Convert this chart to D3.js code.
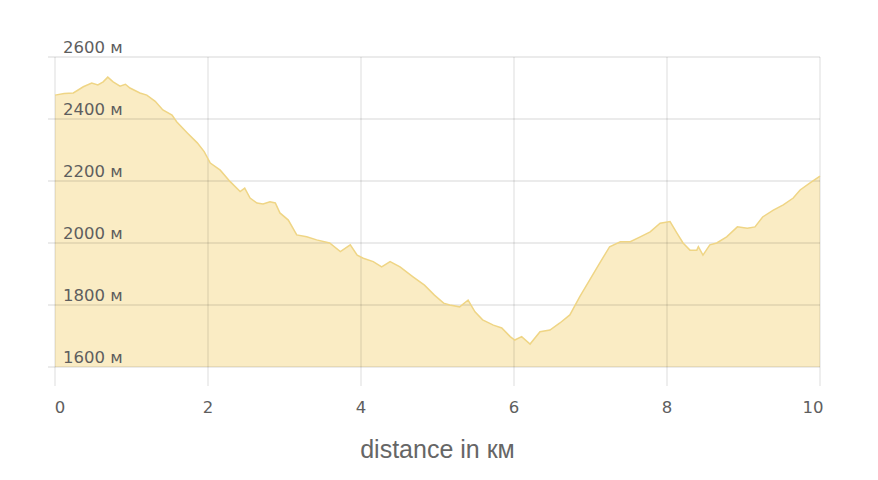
<!DOCTYPE html>
<html>
<head>
<meta charset="utf-8">
<script src="https://cdn.jsdelivr.net/npm/d3@7/dist/d3.min.js"></script>
<style>
body { margin: 0; background: #fff; }
svg { display: block; }
</style>
</head>
<body>
<svg id="chart" width="878" height="480"></svg>
<script>
const distances = [0, 0.12, 0.24, 0.37, 0.48, 0.56, 0.63, 0.69, 0.76, 0.85, 0.92, 0.98, 1.11, 1.2, 1.31, 1.41, 1.53, 1.59, 1.73, 1.86, 1.95,
  2.03, 2.16, 2.29, 2.42, 2.48, 2.55, 2.64, 2.72, 2.81, 2.88, 2.94, 3.05, 3.16, 3.29, 3.42, 3.59, 3.73, 3.86, 3.95, 4.03, 4.16, 4.27, 4.38, 4.51, 4.68,
  4.83, 4.96, 5.08, 5.16, 5.29, 5.40, 5.49, 5.59, 5.73, 5.84, 5.95, 6.01, 6.10, 6.21, 6.34, 6.47, 6.60, 6.73, 6.86, 6.99, 7.12, 7.25, 7.39, 7.52, 7.65, 7.78, 7.91, 8.04,
  8.13, 8.21, 8.30, 8.39, 8.41, 8.47, 8.56, 8.65, 8.78, 8.92, 9.05, 9.15, 9.25, 9.39, 9.52, 9.65, 9.74, 9.87, 10];
const elevations = [2477, 2482, 2484, 2504, 2516, 2510, 2520, 2535, 2520, 2506, 2512, 2500, 2484, 2477, 2457, 2429, 2413, 2391, 2355, 2323, 2295,
  2258, 2235, 2198, 2166, 2177, 2145, 2129, 2126, 2133, 2129, 2097, 2074, 2026, 2020, 2010, 2000, 1972, 1994, 1961, 1951, 1940, 1923, 1940, 1923, 1891,
  1864, 1832, 1806, 1800, 1794, 1816, 1778, 1752, 1735, 1726, 1698, 1687, 1698, 1674, 1714, 1719, 1742, 1768, 1827, 1881, 1935, 1988, 2004, 2004, 2020, 2036, 2064, 2069,
  2032, 2000, 1977, 1977, 1988, 1961, 1994, 2000, 2020, 2052, 2048, 2052, 2084, 2106, 2123, 2145, 2171, 2194, 2216];
const xTicks = [0, 2, 4, 6, 8, 10];
const yTicks = [1600, 1800, 2000, 2200, 2400, 2600];
const yUnit = "м";
const xTitle = "distance in км";

const svg = d3.select("#chart");
const mLeft = 55, mRight = 820, mTop = 57, mBottom = 367;
const x = d3.scaleLinear().domain([0, 10]).range([mLeft, mRight]);
const y = d3.scaleLinear().domain([1600, 2600]).range([mBottom, mTop]);

const data = distances.map((d, i) => [d, elevations[i]]);
const area = d3.area().x(d => x(d[0])).y0(y(1600)).y1(d => y(d[1]));
const line = d3.line().x(d => x(d[0])).y(d => y(d[1]));
svg.append("path").datum(data).attr("d", area).attr("fill", "#faecc4");

const grid = svg.append("g");
grid.selectAll("line.v").data(xTicks).join("line")
  .attr("x1", d => x(d)).attr("x2", d => x(d))
  .attr("y1", mTop).attr("y2", mBottom + 19)
  .attr("stroke", "rgba(0,0,0,0.105)").attr("stroke-width", 1.3);
grid.selectAll("line.h").data(yTicks).join("line")
  .attr("x1", mLeft - 7).attr("x2", mRight)
  .attr("y1", d => y(d)).attr("y2", d => y(d))
  .attr("stroke", "rgba(0,0,0,0.105)").attr("stroke-width", 1.3);

svg.append("path").datum(data).attr("d", line).attr("fill", "none").attr("stroke", "#efd585").attr("stroke-width", 1.5);

svg.append("g").selectAll("text").data(yTicks).join("text")
  .attr("x", mLeft + 8).attr("y", d => y(d) - 4)
  .attr("font-family", "DejaVu Sans, sans-serif").attr("font-size", 16.5)
  .attr("fill", "#5e5e5e")
  .text(d => d + " " + yUnit);

svg.append("g").selectAll("text").data(xTicks).join("text")
  .attr("x", d => x(d) + (d === 0 ? 5 : d === 10 ? -7 : 0)).attr("y", 413)
  .attr("text-anchor", "middle")
  .attr("font-family", "DejaVu Sans, sans-serif").attr("font-size", 16.5)
  .attr("fill", "#5e5e5e")
  .text(d => d);

svg.append("text").attr("x", (mLeft + mRight) / 2).attr("y", 458)
  .attr("text-anchor", "middle")
  .attr("font-family", "Liberation Sans, Arial, sans-serif").attr("font-size", 25)
  .attr("fill", "#666")
  .text(xTitle);
</script>
</body>
</html>
